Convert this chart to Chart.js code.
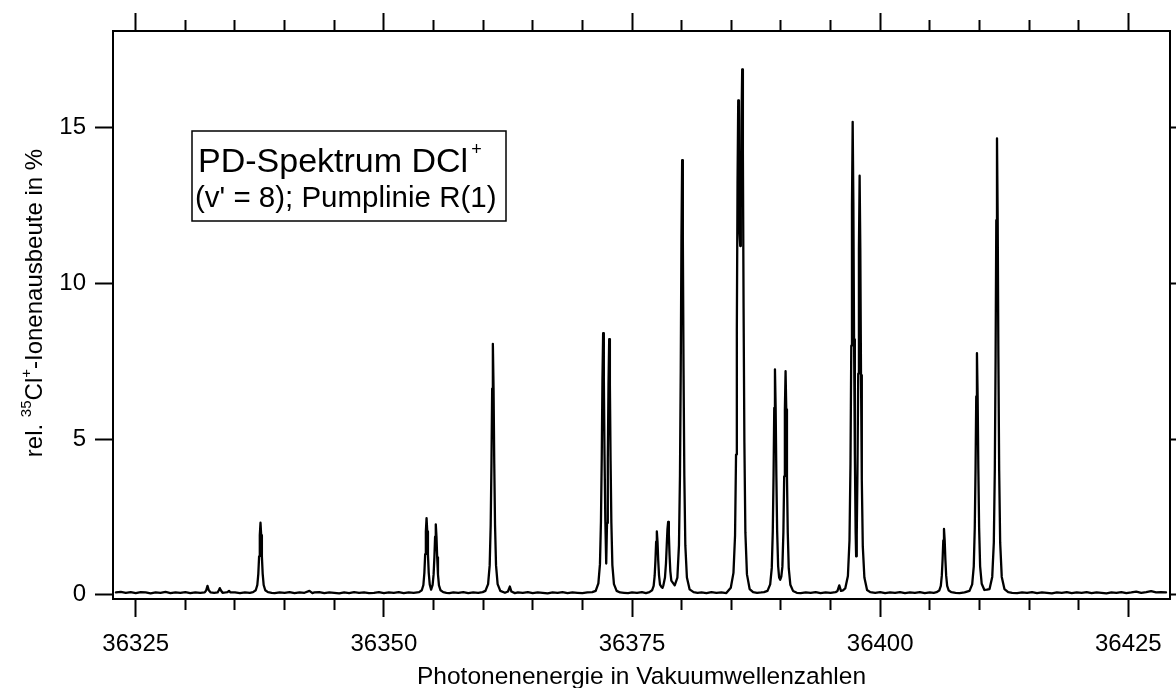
<!DOCTYPE html>
<html><head><meta charset="utf-8">
<script src="https://cdn.jsdelivr.net/npm/chart.js@4/dist/chart.umd.min.js"></script>
<style>html,body{margin:0;padding:0;background:#fff;} canvas{display:block;}</style>
</head><body>
<canvas id="c" width="1176" height="688"></canvas>
<script>
// ---- data (one row per stretch of the spectrum) ----
const wavenumber = [
36323.0,36323.5,36324.0,36324.5,36325.0,36325.5,36326.0,36326.5,36327.0,36327.5,36328.0,36328.5,36329.0,36329.5,36330.0,36330.5,36331.0,36331.5,
36331.95,36332.1,36332.23,36332.36,36332.55,36332.9,36333.25,36333.37,36333.47,36333.57,36333.75,36334.05,36334.25,36334.4,36334.55,36335.0,36335.5,36336.0,36336.5,
36336.82,36337.09,36337.25,36337.35,36337.43,36337.50,36337.57,36337.64,36337.71,36337.79,36337.89,36338.05,36338.32,
36338.7,36339.0,36339.5,36340.0,36340.5,36341.0,36341.5,36342.0,36342.5,36342.8,36343.0,36343.5,36344.0,36344.5,36345.0,36345.5,36346.0,36346.5,36347.0,36347.5,36348.0,36348.5,36349.0,36349.5,36350.0,36350.5,36351.0,36351.5,36352.0,36352.5,36353.0,
36353.55,36353.82,36353.98,36354.08,36354.16,36354.23,36354.30,36354.37,36354.44,36354.52,36354.62,36354.76,36354.91,36355.01,36355.09,36355.16,36355.23,36355.30,36355.37,36355.45,36355.55,36355.71,36355.98,
36356.3,36356.6,36357.0,36357.5,36358.0,36358.5,36359.0,36359.5,36359.95,
36360.23,36360.50,36360.66,36360.76,36360.84,36360.91,36360.98,36361.05,36361.12,36361.20,36361.30,36361.46,36361.73,
36362.2,36362.5,36362.69,36362.85,36363.2,36363.5,36364.0,36364.5,36365.0,36365.5,36366.0,36366.5,36367.0,36367.5,36368.0,36368.5,36369.0,36369.5,36370.0,36370.5,36371.0,
36371.34,36371.61,36371.77,36371.87,36371.95,36372.02,36372.09,36372.16,36372.23,36372.31,36372.40,36372.48,36372.56,36372.63,36372.70,36372.77,36372.84,36372.92,36373.02,36373.18,36373.45,36373.8,
36374.2,36374.6,36375.0,36375.5,36376.0,36376.4,
36376.75,36377.02,36377.18,36377.28,36377.36,36377.43,36377.50,36377.57,36377.64,36377.72,36377.82,36377.98,36378.07,36378.16,36378.32,36378.42,36378.50,36378.57,36378.64,36378.71,36378.78,36378.86,36378.96,36379.12,36379.30,
36379.57,36379.73,36379.83,36379.91,36379.98,36380.05,36380.12,36380.19,36380.27,36380.37,36380.53,36380.80,36381.2,
36381.6,36382.0,36382.5,36383.0,36383.5,36384.0,36384.5,
36384.95,36385.22,36385.38,36385.48,36385.56,36385.63,36385.70,36385.77,36385.84,36385.90,36385.96,36386.03,36386.10,36386.17,36386.24,36386.32,36386.42,36386.58,36386.85,36387.2,
36387.6,36388.0,36388.3,
36388.65,36388.92,36389.08,36389.18,36389.26,36389.33,36389.40,36389.47,36389.54,36389.62,36389.72,36389.82,36389.93,36390.04,36390.15,36390.25,36390.33,36390.40,36390.47,36390.54,36390.61,36390.69,36390.79,36390.95,36391.22,36391.6,
36392.0,36392.5,36393.0,36393.5,36394.0,36394.5,36395.0,36395.5,36395.7,36395.88,36396.05,36396.25,
36396.48,36396.75,36396.91,36397.01,36397.09,36397.16,36397.23,36397.30,36397.37,36397.45,36397.53,36397.58,36397.64,36397.71,36397.79,36397.86,36397.93,36398.00,36398.07,36398.15,36398.25,36398.41,36398.68,36399.0,
36399.5,36400.0,36400.5,36401.0,36401.5,36402.0,36402.5,36403.0,36403.5,36404.0,36404.5,36405.0,36405.4,
36405.68,36405.95,36406.11,36406.21,36406.29,36406.36,36406.43,36406.50,36406.57,36406.65,36406.75,36406.91,36407.18,
36407.6,36408.0,36408.5,
36409.00,36409.27,36409.43,36409.53,36409.61,36409.68,36409.75,36409.82,36409.89,36409.97,36410.07,36410.23,36410.50,36410.75,36411.02,36411.29,36411.45,36411.55,36411.63,36411.70,36411.77,36411.84,36411.91,36411.99,36412.09,36412.25,36412.52,36412.9,
36413.3,36413.8,36414.3,36414.8,36415.3,36415.8,36416.3,36416.8,36417.3,36417.8,36418.3,36418.8,36419.3,36419.8,36420.3,36420.8,36421.3,36421.8,36422.3,36422.8,36423.3,36423.8,36424.3,36424.8,36425.3,36425.8,36426.3,36426.8,36427.3,36427.8,36428.3,36428.8
];
const ionYield = [
0.07,0.09,0.06,0.08,0.05,0.08,0.07,0.04,0.07,0.06,0.09,0.05,0.07,0.06,0.08,0.05,0.07,0.06,
0.07,0.14,0.28,0.14,0.07,0.06,0.07,0.14,0.21,0.14,0.06,0.07,0.08,0.12,0.07,0.07,0.05,0.07,0.06,
0.08,0.14,0.31,0.67,1.23,1.91,2.31,1.91,1.23,0.67,0.31,0.14,0.08,
0.06,0.05,0.07,0.06,0.08,0.05,0.07,0.06,0.12,0.05,0.07,0.08,0.05,0.07,0.06,0.04,0.07,0.05,0.08,0.06,0.07,0.05,0.06,0.08,0.05,0.07,0.06,0.08,0.05,0.07,0.06,
0.08,0.14,0.31,0.70,1.30,2.03,2.46,2.03,1.30,0.70,0.33,0.16,0.31,0.65,1.20,1.86,2.26,1.86,1.20,0.65,0.30,0.14,0.08,
0.06,0.05,0.07,0.06,0.08,0.05,0.07,0.06,0.08,
0.12,0.34,0.94,2.22,4.22,6.62,8.06,6.62,4.22,2.22,0.94,0.34,0.12,
0.06,0.10,0.26,0.10,0.05,0.07,0.06,0.08,0.05,0.07,0.06,0.04,0.07,0.06,0.08,0.05,0.07,0.06,0.05,0.07,0.08,
0.12,0.36,0.98,2.35,4.40,6.90,8.40,6.95,4.50,2.40,1.00,2.30,4.35,6.75,8.21,6.75,4.30,2.30,0.95,0.34,0.12,0.07,
0.06,0.05,0.07,0.06,0.08,0.05,
0.08,0.14,0.28,0.60,1.10,1.70,2.03,1.70,1.10,0.62,0.32,0.24,0.22,0.30,0.55,1.00,1.60,2.10,2.34,1.95,1.28,0.75,0.45,0.38,0.30,
0.55,1.59,3.81,7.29,11.46,13.96,11.46,7.29,3.81,1.59,0.55,0.17,0.08,
0.06,0.07,0.05,0.08,0.06,0.07,0.05,
0.22,0.70,1.90,4.50,8.50,13.20,15.88,14.20,11.60,11.20,12.60,15.20,16.88,14.20,9.20,4.90,2.00,0.65,0.18,0.08,
0.06,0.07,0.08,
0.12,0.33,0.86,2.02,3.84,6.00,7.24,6.00,3.86,2.05,0.92,0.55,0.48,0.58,0.90,2.00,3.80,5.95,7.18,5.95,3.80,2.00,0.85,0.32,0.12,0.06,
0.05,0.07,0.06,0.08,0.05,0.07,0.06,0.08,0.12,0.30,0.12,0.14,
0.20,0.60,1.75,4.20,8.00,12.50,15.19,12.60,8.20,4.50,2.00,1.23,1.90,3.90,7.10,11.10,13.46,11.10,7.05,3.70,1.55,0.55,0.15,0.08,
0.06,0.08,0.05,0.07,0.06,0.08,0.05,0.07,0.06,0.08,0.05,0.07,0.06,
0.08,0.13,0.28,0.61,1.13,1.74,2.11,1.74,1.13,0.61,0.28,0.13,0.08,
0.06,0.05,0.07,
0.12,0.33,0.91,2.14,4.06,6.37,7.76,6.37,4.06,2.14,0.91,0.35,0.15,0.16,0.18,0.57,1.67,4.00,7.65,12.03,14.66,12.03,7.65,4.00,1.67,0.57,0.18,0.08,
0.06,0.05,0.07,0.06,0.08,0.05,0.07,0.06,0.04,0.07,0.06,0.08,0.05,0.07,0.06,0.08,0.05,0.07,0.06,0.04,0.07,0.06,0.08,0.05,0.07,0.10,0.06,0.08,0.11,0.07,0.08,0.07
];
const xMajorLabels = [36325, 36350, 36375, 36400, 36425];
const yTickLabels = [0, 5, 10, 15];
const xTitle = 'Photonenenergie in Vakuumwellenzahlen';
const yTitleParts = [{t:'rel. '},{t:'35',sup:true},{t:'Cl'},{t:'+',sup:true},{t:'-Ionenausbeute in %'}];
const boxLine1 = 'PD-Spektrum DCl';
const boxLine1Sup = '+';
const boxLine2 = "(v' = 8); Pumplinie R(1)";

// ---- layout / style ----
const FONT = "'Liberation Sans', Arial, Helvetica, sans-serif";
const X_MIN = 36322.71, X_MAX = 36429.2, Y_MIN = -0.14, Y_MAX = 18.11;
const isMajor = v => xMajorLabels.some(m => Math.abs(m - v) < 1e-6);
const isMinorCtx = c => !!(c.tick && !isMajor(c.tick.value));

const annot = {
  id: 'annot',
  afterDraw(chart) {
    const ctx = chart.ctx;
    ctx.save();
    ctx.fillStyle = '#000';
    let total = 0;
    for (const p of yTitleParts) { ctx.font = (p.sup ? '15px ' : '24px ') + FONT; total += ctx.measureText(p.t).width; }
    ctx.translate(42, 303 + total / 2);
    ctx.rotate(-Math.PI / 2);
    ctx.textAlign = 'left'; ctx.textBaseline = 'alphabetic';
    let x = 0;
    for (const p of yTitleParts) {
      ctx.font = (p.sup ? '15px ' : '24px ') + FONT;
      ctx.fillText(p.t, x, p.sup ? -11 : 0);
      x += ctx.measureText(p.t).width;
    }
    ctx.restore();

    ctx.save();
    ctx.fillStyle = '#fff';
    ctx.fillRect(192, 131, 314, 90);
    ctx.strokeStyle = '#000'; ctx.lineWidth = 1.5;
    ctx.strokeRect(192, 131, 314, 90);
    ctx.fillStyle = '#000';
    ctx.textAlign = 'left'; ctx.textBaseline = 'alphabetic';
    ctx.font = '34px ' + FONT;
    ctx.fillText(boxLine1, 198, 172);
    const w1 = ctx.measureText(boxLine1).width;
    ctx.font = '18px ' + FONT;
    ctx.fillText(boxLine1Sup, 198 + w1 + 3, 155);
    ctx.font = '29.5px ' + FONT;
    ctx.fillText(boxLine2, 195, 207);
    ctx.restore();
  }
};

const tickFont = {family: FONT, size: 24};
const border = {display: true, color: '#000', width: 2};

new Chart(document.getElementById('c'), {
  type: 'line',
  data: {
    datasets: [{
      data: wavenumber.map((w, i) => ({x: w, y: ionYield[i]})),
      borderColor: '#000', borderWidth: 2.3, borderJoinStyle: 'round', borderCapStyle: 'round',
      pointRadius: 0, tension: 0, fill: false,
      xAxisID: 'x', yAxisID: 'y'
    }]
  },
  options: {
    responsive: false, animation: false, devicePixelRatio: 1,
    layout: {padding: 0},
    plugins: {legend: {display: false}, tooltip: {enabled: false}},
    scales: {
      x: {
        type: 'linear', position: 'bottom', min: X_MIN, max: X_MAX,
        afterFit: s => { s.height = 89; },
        border,
        grid: {drawOnChartArea: false, drawTicks: true, tickLength: 18, tickWidth: 2, tickColor: '#000',
               tickBorderDash: c => isMinorCtx(c) ? [10, 100] : [],
               tickBorderDashOffset: 0},
        ticks: {stepSize: 5, includeBounds: false, autoSkip: false, maxRotation: 0, minRotation: 0,
                padding: 13, color: '#000', font: tickFont,
                callback: v => isMajor(v) ? String(Math.round(v)) : ''},
        title: {display: true, text: xTitle, color: '#000', font: {family: FONT, size: 24.5, lineHeight: 0.9}, padding: {top: 0, bottom: 0}}
      },
      x2: {
        type: 'linear', position: 'top', min: X_MIN, max: X_MAX,
        afterFit: s => { s.height = 31; },
        border,
        grid: {drawOnChartArea: false, drawTicks: true, tickLength: 18, tickWidth: 2, tickColor: '#000',
               tickBorderDash: c => isMinorCtx(c) ? [10, 100] : [],
               tickBorderDashOffset: c => isMinorCtx(c) ? 103 : 0},
        ticks: {display: false, stepSize: 5, includeBounds: false, autoSkip: false}
      },
      y: {
        type: 'linear', position: 'left', min: Y_MIN, max: Y_MAX,
        afterFit: s => { s.width = 113; },
        border,
        grid: {drawOnChartArea: false, drawTicks: true, tickLength: 18, tickWidth: 2, tickColor: '#000'},
        ticks: {stepSize: 5, includeBounds: false, autoSkip: false, padding: 9, color: '#000', font: tickFont,
                callback: v => yTickLabels.includes(v) ? String(v) : ''}
      },
      y2: {
        type: 'linear', position: 'right', min: Y_MIN, max: Y_MAX,
        afterFit: s => { s.width = 6; },
        border,
        grid: {drawOnChartArea: false, drawTicks: true, tickLength: 8, tickWidth: 2, tickColor: '#000'},
        ticks: {display: false, stepSize: 5, includeBounds: false, autoSkip: false}
      }
    }
  },
  plugins: [annot]
});
</script>
</body></html>
